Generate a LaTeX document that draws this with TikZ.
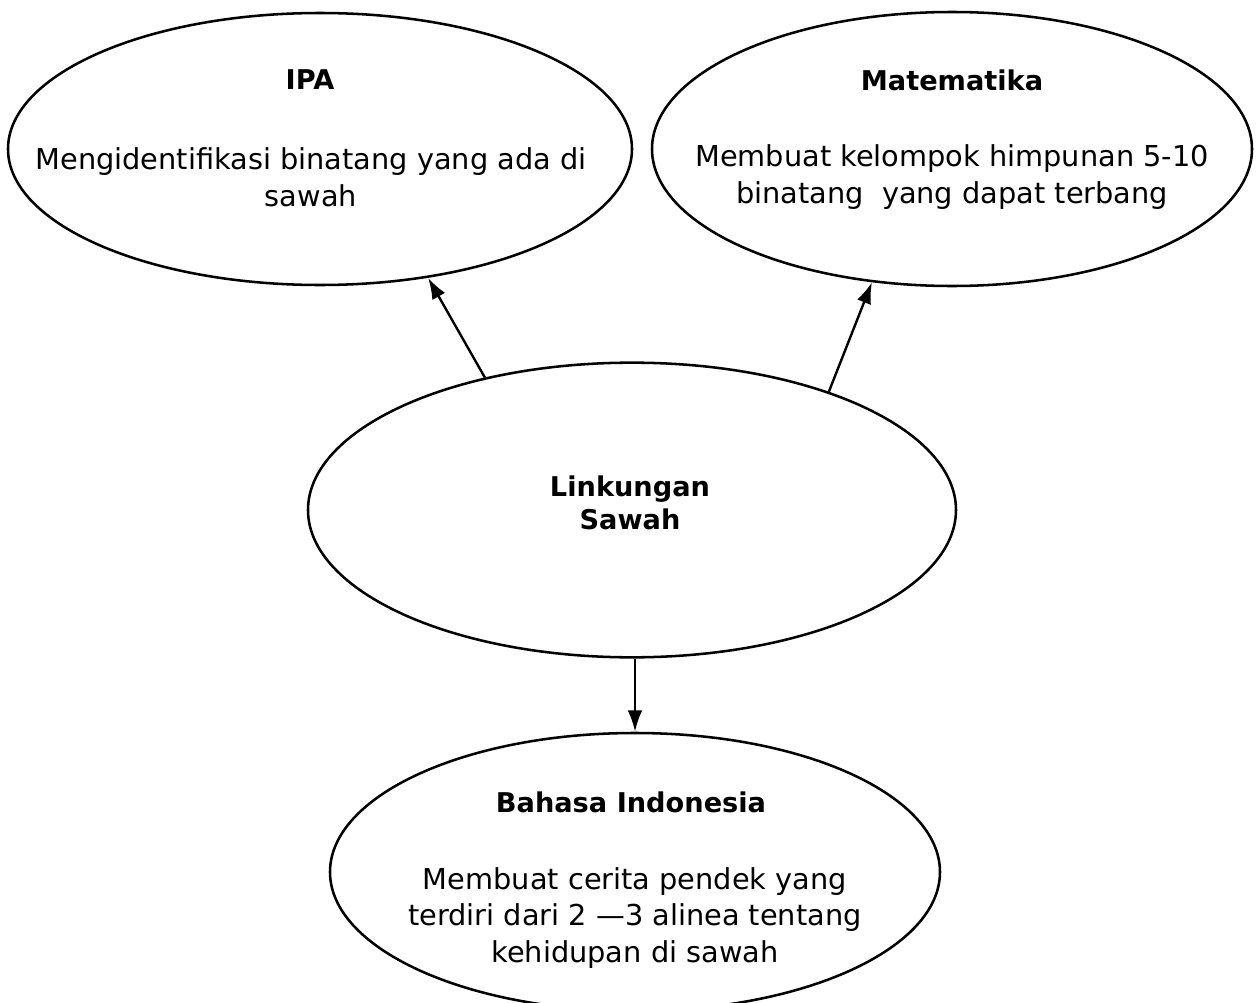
\documentclass[tikz,border=0pt]{standalone}
\usepackage{fontspec}
\setmainfont{DejaVu Sans}
\usetikzlibrary{shapes.geometric,arrows.meta}
\begin{document}
\begin{tikzpicture}[x=0.75pt,y=-0.75pt,
  oval/.style={draw=black,line width=1.9pt,ellipse,inner sep=0pt},
  title/.style={font=\fontsize{20.4pt}{25pt}\selectfont\bfseries,align=center},
  body/.style={font=\fontsize{21.6pt}{27.7pt}\selectfont,align=center},
  conn/.style={line width=1.8pt,-{Latex[length=16pt,width=11pt]}}]
\useasboundingbox (0,0) rectangle (1258,1003);
\node[oval,minimum width=468pt,minimum height=204pt] (ipa) at (320,149) {};
\node[oval,minimum width=450pt,minimum height=205.5pt] (mat) at (952,149) {};
\node[oval,minimum width=486pt,minimum height=221pt] (ls) at (632,510) {};
\node[oval,minimum width=457.5pt,minimum height=208.5pt] (bi) at (635,872) {};
\node[title] (ipat) at (310,80) {IPA};
\node[body] (ipab) at (311,177) {Mengidentifikasi binatang yang ada di\\sawah};
\node[title] (matt) at (952,80) {Matematika};
\node[body] (matb) at (952,177) {Membuat kelompok himpunan 5-10\\binatang\ \ yang dapat terbang};
\node[title] (lst) at (630,503) {Linkungan\\Sawah};
\node[title] (bit) at (631,802) {Bahasa Indonesia};
\node[body] (bib) at (635,918) {Membuat cerita pendek yang\\terdiri dari 2 —3 alinea tentang\\kehidupan di sawah};
\draw[conn] (ls.138.3) -- (ipa.-50.1);
\draw[conn] (ls.31.7) -- (mat.-121.4);
\draw[conn] (bi.north |- ls.south) -- (bi.north);
\end{tikzpicture}
\end{document}
